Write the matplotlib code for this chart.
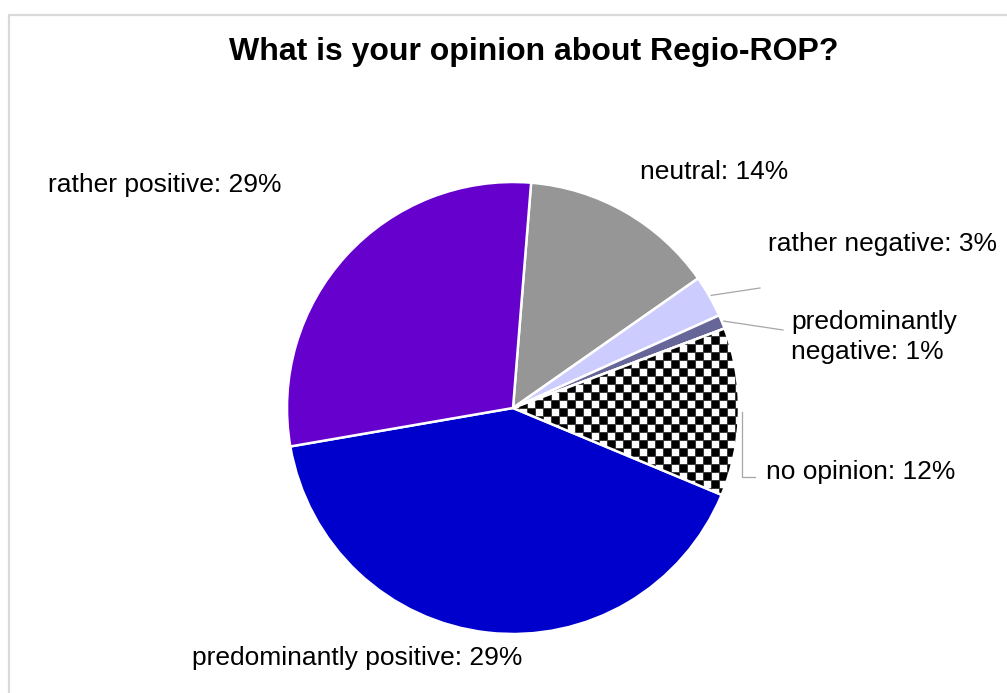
import numpy as np
import matplotlib.pyplot as plt
from matplotlib.patches import Wedge
from matplotlib.collections import PolyCollection

plt.rcParams['font.family'] = ['Liberation Sans', 'DejaVu Sans']

# slice values (clockwise from the top)
categories = ['neutral', 'rather negative', 'predominantly negative', 'no opinion',
              'predominantly positive', 'rather positive']
values = [14, 3, 1, 12, 41, 29]
labels = ['neutral: 14%', 'rather negative: 3%', 'predominantly\nnegative: 1%',
          'no opinion: 12%', 'predominantly positive: 29%', 'rather positive: 29%']
colors = ['#969696', '#ccccff', '#666699', '#ffffff', '#0000cc', '#6600cc']

W, H = 1007, 693
cx, cy, R = 513, H - 408, 226

fig = plt.figure(figsize=(W / 100, H / 100), dpi=100)
ax = fig.add_axes([0, 0, 1, 1])

wedges, _ = ax.pie(values, colors=colors, startangle=85.4, counterclock=False,
                   center=(cx, cy), radius=R, frame=True,
                   wedgeprops=dict(edgecolor='white', linewidth=1.8))

# checkerboard fill for "no opinion": black squares clipped to the wedge
w = wedges[3]
cell = 8
squares = []
for i in range(int((R + 20) / cell)):
    for j in range(int(240 / cell)):
        if (i + j) % 2:
            x = cx - 10 + i * cell
            y = cy - 120 + j * cell
            squares.append([(x, y), (x + cell, y), (x + cell, y + cell), (x, y + cell)])
checks = PolyCollection(squares, facecolors='black', edgecolors='#3a3a3a',
                        linewidths=0.75, zorder=2)
ax.add_collection(checks)
checks.set_clip_path(w)
ax.add_patch(Wedge((cx, cy), R, w.theta1, w.theta2, facecolor='none',
                   edgecolor='white', linewidth=1.8, zorder=3))

# labels (pixel positions, y measured from top)
pos = [(640, 172), (768, 244), (791, 337), (766, 472), (192, 658), (48, 185)]
for lab, (px, py) in zip(labels, pos):
    ax.text(px, H - py, lab, ha='left', va='center', fontsize=19,
            linespacing=1.35, color='black')

# leader lines for the small slices
ends = {1: [(760, 288)], 2: [(783, 330)], 3: [(742, 477), (755, 477)]}
for i, pts in ends.items():
    mid = np.deg2rad((wedges[i].theta1 + wedges[i].theta2) / 2)
    sx, sy = cx + (R + 2) * np.cos(mid), cy + (R + 2) * np.sin(mid)
    if i == 3:
        sx = 742
    xs = [sx] + [p[0] for p in pts]
    ys = [sy] + [H - p[1] for p in pts]
    ax.plot(xs, ys, color='#a6a6a6', linewidth=0.9, zorder=1)

ax.text(534, H - 52, 'What is your opinion about Regio-ROP?', ha='center',
        va='center', fontsize=23, fontweight='bold')

# chart border
ax.plot([9, 9, W], [0, H - 15, H - 15], color='#d9d9d9', linewidth=1.6)

ax.set_xlim(0, W)
ax.set_ylim(0, H)
ax.axis('off')

fig.savefig('out.png', dpi=100)
